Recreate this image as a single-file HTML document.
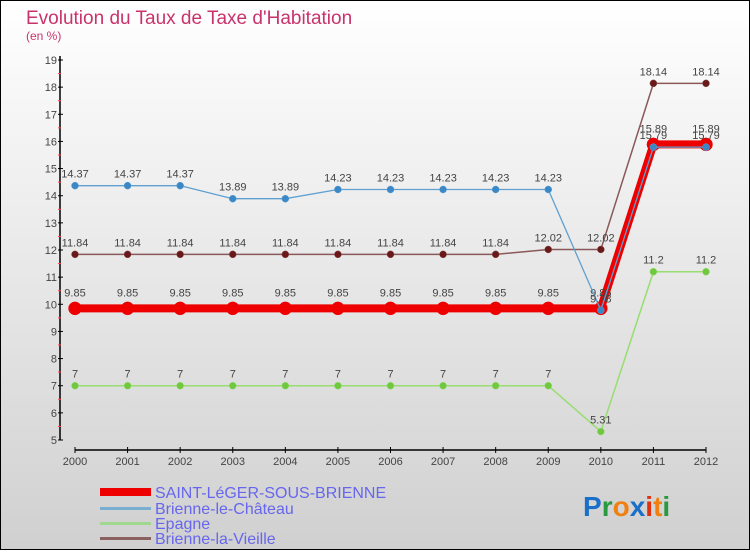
<!DOCTYPE html>
<html><head><meta charset="utf-8"><style>
body{margin:0;width:750px;height:550px;overflow:hidden;font-family:"Liberation Sans",sans-serif}
svg text{font-family:"Liberation Sans",sans-serif}
</style></head><body>
<svg id="c" width="750" height="550" xmlns="http://www.w3.org/2000/svg">
<defs><linearGradient id="bg" x1="0" y1="0" x2="0" y2="1"><stop offset="0" stop-color="#ffffff"/><stop offset="1" stop-color="#d0d0d0"/></linearGradient></defs>
<rect x="0.5" y="0.5" width="749" height="549" fill="url(#bg)" stroke="#000"/>
<text x="26" y="24" font-size="19" fill="#c8336b">Evolution du Taux de Taxe d'Habitation</text>
<text x="26" y="40" font-size="12" fill="#c8336b">(en %)</text>
<g id="axes"></g><g id="series"></g>
<g>
<rect x="100" y="488" width="51" height="8" fill="#e00"/>
<text x="155" y="498" font-size="16" fill="#6666ee">SAINT-LéGER-SOUS-BRIENNE</text>
<rect x="100" y="507" width="51" height="3" fill="#7aaed0"/>
<text x="155" y="514" font-size="16" fill="#6666ee">Brienne-le-Château</text>
<rect x="100" y="522" width="51" height="3" fill="#a0d890"/>
<text x="155" y="529" font-size="16" fill="#6666ee">Epagne</text>
<rect x="100" y="537" width="51" height="3" fill="#8a6060"/>
<text x="155" y="544" font-size="16" fill="#6666ee">Brienne-la-Vieille</text>
</g>
<text x="583" y="516" font-size="28" font-weight="bold"><tspan fill="#1a70c8">P</tspan><tspan fill="#2a9a40">r</tspan><tspan fill="#f08010">o</tspan><tspan fill="#1a70c8">x</tspan><tspan fill="#e03010">i</tspan><tspan fill="#f08010">t</tspan><tspan fill="#2a9a40">i</tspan></text>
</svg>
<script>
const years=[2000,2001,2002,2003,2004,2005,2006,2007,2008,2009,2010,2011,2012];
const yTicks=[5,6,7,8,9,10,11,12,13,14,15,16,17,18,19];
const saintLeger=[9.85,9.85,9.85,9.85,9.85,9.85,9.85,9.85,9.85,9.85,9.85,15.89,15.89];
const brienneChateau=[14.37,14.37,14.37,13.89,13.89,14.23,14.23,14.23,14.23,14.23,9.78,15.79,15.79];
const epagne=[7,7,7,7,7,7,7,7,7,7,5.31,11.2,11.2];
const brienneVieille=[11.84,11.84,11.84,11.84,11.84,11.84,11.84,11.84,11.84,12.02,12.02,18.14,18.14];
const NS="http://www.w3.org/2000/svg";
const X=i=>75+i*(631/12);
const Y=v=>440-(v-5)*(380/14);
function mk(tag,attrs,parent){const e=document.createElementNS(NS,tag);for(const k in attrs)e.setAttribute(k,attrs[k]);parent.appendChild(e);return e;}
const ax=document.getElementById('axes');
let yl=mk('line',{x1:60,y1:56,x2:60,y2:440,stroke:'#000','stroke-width':1.5},ax);


yTicks.forEach(v=>{
 mk('line',{x1:58,x2:63,y1:Y(v),y2:Y(v),stroke:'#000'},ax);
 if(v<19)mk('line',{x1:58,x2:61,y1:Y(v+0.5),y2:Y(v+0.5),stroke:'#f44'},ax);
 const t=mk('text',{x:57,y:Y(v)+4,'font-size':11,fill:'#444','text-anchor':'end'},ax);t.textContent=v;
 
 
});
let xl=mk('line',{x1:75,y1:450,x2:706,y2:450,stroke:'#000','stroke-width':1.5},ax);


years.forEach((y,i)=>{
 mk('line',{x1:X(i),x2:X(i),y1:447,y2:453,stroke:'#000'},ax);
 const t=mk('text',{x:X(i),y:465,'font-size':11,fill:'#444','text-anchor':'middle'},ax);t.textContent=y;
 
 
});
const sg=document.getElementById('series');
function series(data,color,dot,w,r,name,labelDy){
 const g=mk('g',{},sg);
 
 
 const l=mk('polyline',{points:data.map((v,i)=>X(i)+','+Y(v)).join(' '),fill:'none',stroke:color,'stroke-width':w,'stroke-linejoin':'round'},g);
 
 
 data.forEach((v,i)=>{
  const c=mk('circle',{cx:X(i),cy:Y(v),r:r,fill:dot,stroke:color,'stroke-width':0.5},g);
  
  
  const t=mk('text',{x:X(i),y:Y(v)-labelDy,'font-size':11,fill:'#444','text-anchor':'middle'},g);
  t.textContent=String(v);
  
  
 });
}
series(brienneVieille,'#8a5858','#6a1818',1.5,3.5,'brienne-la-vieille',8);
series(epagne,'#98dd70','#70c840',1.5,3.5,'epagne',8);
series(saintLeger,'#ee0000','#ee0000',8,6.5,'saint-leger',12);
series(brienneChateau,'#5fa0d0','#3a88c8',1.3,3.5,'brienne-le-chateau',8);
</script>
</body></html>
